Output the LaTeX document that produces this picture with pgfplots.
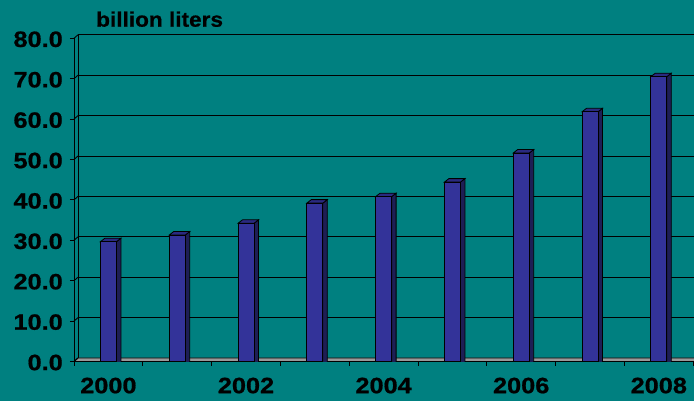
\documentclass[border=0pt]{standalone}
\usepackage{fontspec}
\setmainfont{Liberation Sans}
\newfontfamily\tickfont{Liberation Sans Bold}[FakeStretch=1.14, FakeBold=0.8]
\newfontfamily\titlefont{Liberation Sans Bold}[FakeStretch=1.08, FakeBold=0.6]
\usepackage{pgfplots}
\usepackage{pgfplotstable}
\pgfplotsset{compat=1.18}
\definecolor{bg}{HTML}{008080}
\definecolor{barfront}{HTML}{333399}
\definecolor{bartop}{HTML}{2A2A80}
\definecolor{barside}{HTML}{1E1E55}
\definecolor{floorgray}{HTML}{999999}
\pgfdeclareplotmark{emptymark}{}
\pgfplotstableread{
x v
0 29.65
1 31.3
2 34.2
3 39.2
4 40.8
5 44.4
6 51.6
7 61.8
8 70.5
}\ethanol
\begin{document}
\begin{tikzpicture}
\fill[bg] (0,0) rectangle (694bp,401bp);
\path[use as bounding box] (0,0) rectangle (694bp,401bp);
\node[anchor=base west, inner sep=0pt, font=\titlefont\fontsize{21}{24}\selectfont] at (96bp,374.3bp) {billion liters};
\begin{axis}[
  at={(74bp,39.5bp)}, anchor=south west,
  scale only axis, width=620bp, height=323.2bp,
  xmin=-0.5, xmax=8.5116, ymin=0, ymax=80,
  axis x line*=bottom, axis y line*=left,
  axis line style={black, line width=0.9bp},
  tick align=outside, major tick length=4bp,
  tick style={black, line width=0.9bp},
  xtick={-0.5,0.5,...,8.5},
  xticklabels={2000,,2002,,2004,,2006,,2008,},
  xticklabel style={anchor=north, inner sep=0pt, xshift=34.4bp, yshift=-12bp},
  ytick={0,10,...,80},
  yticklabels={0.0,10.0,20.0,30.0,40.0,50.0,60.0,70.0,80.0},
  yticklabel style={anchor=east, inner sep=0pt, xshift=-7bp, yshift=-1bp},
  ticklabel style={font=\tickfont\fontsize{22.3}{24}\selectfont, text=black},
  ymajorgrids,
  major grid style={black, line width=0.9bp, xshift=4bp, yshift=3.5bp},
  clip mode=individual, clip marker paths=true,
]
\draw[black, line width=0.9bp, fill=floorgray] (axis cs:-0.5,0) -- ([shift={(4bp,3.5bp)}]axis cs:-0.5,0) -- ([shift={(4bp,3.5bp)}]axis cs:8.6,0) -- (axis cs:8.6,0) -- cycle;
\draw[black, line width=0.9bp] ([shift={(4bp,3.5bp)}]axis cs:-0.5,0) -- ([shift={(4bp,3.5bp)}]axis cs:-0.5,80);
\pgfplotsinvokeforeach{0,10,...,80}{\draw[black, line width=0.9bp] (axis cs:-0.5,#1) -- ++(4bp,3.5bp);}
\addplot[only marks, scatter, mark=emptymark,
  scatter/@pre marker code/.code={
    \path[fill=barside, draw=black, line width=0.8bp] (8bp,0pt) -- (12.5bp,3.5bp) -- (12.5bp,-400bp) -- (8bp,-400bp) -- cycle;
    \path[fill=bartop, draw=black, line width=0.8bp] (-8bp,0pt) -- (8bp,0pt) -- (12.5bp,3.5bp) -- (-3.5bp,3.5bp) -- cycle;
  },
  scatter/@post marker code/.code={}
] table[x=x,y=v] {\ethanol};
\addplot[ybar, bar width=16bp, fill=barfront, draw=black, line width=0.8bp] table[x=x,y=v] {\ethanol};
\end{axis}
\end{tikzpicture}
\end{document}
